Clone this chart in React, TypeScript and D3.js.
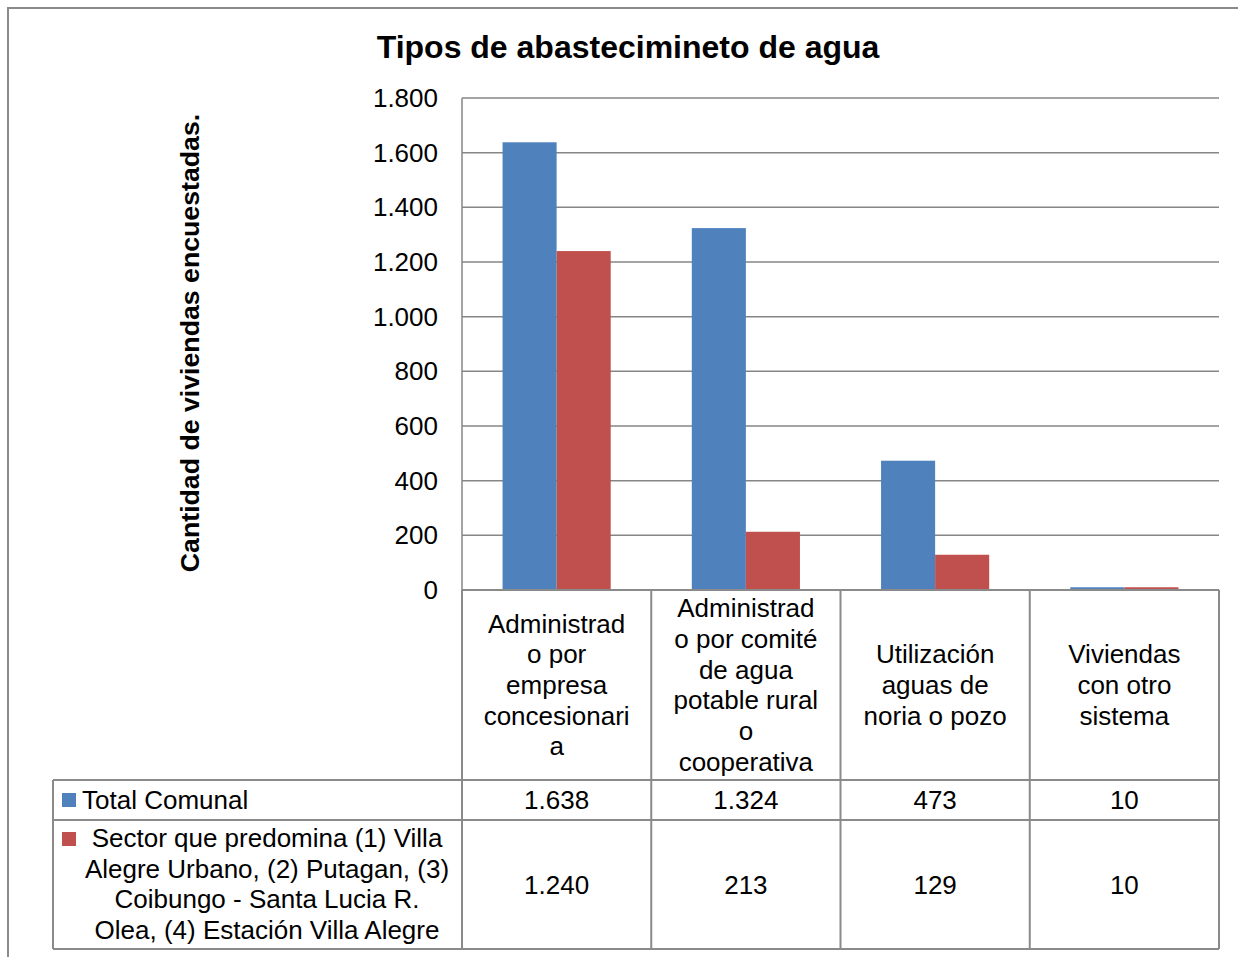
import React from "react";
import * as d3 from "d3";

const categories = ["c1", "c2", "c3", "c4"];
const categoryLabels: string[][] = [
  ["Administrad", "o por", "empresa", "concesionari", "a"],
  ["Administrad", "o por comité", "de agua", "potable rural", "o", "cooperativa"],
  ["Utilización", "aguas de", "noria o pozo"],
  ["Viviendas", "con otro", "sistema"],
];
const seriesNames = ["Total Comunal", "Sector"];
const seriesLegend: string[][] = [
  ["Total Comunal"],
  [
    "Sector que predomina (1) Villa",
    "Alegre Urbano, (2) Putagan, (3)",
    "Coibungo - Santa Lucia R.",
    "Olea, (4) Estación Villa Alegre",
  ],
];
const totalComunal = [1638, 1324, 473, 10];
const sectorValues = [1240, 213, 129, 10];
const yTicks = [0, 200, 400, 600, 800, 1000, 1200, 1400, 1600, 1800];
const colors = ["#4F81BD", "#C0504D"];
const title = "Tipos de abastecimineto de agua";
const yTitle = "Cantidad de viviendas encuestadas.";

const W = 1238;
const H = 957;
const plotL = 462;
const plotR = 1219;
const plotT = 98;
const plotB = 590;
const headerB = 780;
const row1B = 820;
const row2B = 949;
const tableL = 53;
const FONT = "'Liberation Sans', Arial, sans-serif";
const GRID = "#868686";
const LINE = "#8a8a8a";

const locale = d3.formatLocale({ decimal: ",", thousands: ".", grouping: [3], currency: ["$", ""] });
const fmt = locale.format(",");

export default function App() {
  const series = [totalComunal, sectorValues];
  const x0 = d3.scaleBand<string>().domain(categories).range([plotL, plotR]);
  const bw = x0.bandwidth();
  const x1 = d3.scaleBand<string>().domain(seriesNames).range([0, bw]).paddingInner(0).paddingOuter(0.75);
  const y = d3.scaleLinear().domain([0, 1800]).range([plotB, plotT]);
  const lh = 30.7;
  const rows = [
    { top: headerB, bottom: row1B },
    { top: row1B, bottom: row2B },
  ];

  return (
    <svg
      width={W}
      height={H}
      style={{ position: "absolute", left: 0, top: 0, background: "#fff" }}
      fontFamily={FONT}
    >
      <rect x={0} y={0} width={W} height={H} fill="#fff" />
      <rect x={8} y={8} width={W + 40} height={H + 40} fill="none" stroke={LINE} strokeWidth={2} />
      <text x={628} y={58} textAnchor="middle" fontSize={32} fontWeight="bold" fill="#000">
        {title}
      </text>
      <text
        transform={`translate(190, ${343}) rotate(-90)`}
        textAnchor="middle"
        dominantBaseline="central"
        fontSize={26.7}
        fontWeight="bold"
        fill="#000"
      >
        {yTitle}
      </text>
      {yTicks.map((t) => (
        <g key={t}>
          {t > 0 && (
            <line x1={plotL} x2={plotR} y1={y(t)} y2={y(t)} stroke={GRID} strokeWidth={1.5} />
          )}
          <text x={438} y={y(t)} textAnchor="end" dominantBaseline="central" fontSize={26} fill="#000">
            {fmt(t)}
          </text>
        </g>
      ))}
      <line x1={plotL} x2={plotL} y1={plotT} y2={plotB} stroke={GRID} strokeWidth={1.5} />
      {categories.map((c, i) =>
        series.map((s, j) => (
          <rect
            key={c + j}
            x={(x0(c) as number) + (x1(seriesNames[j]) as number)}
            y={y(s[i])}
            width={x1.bandwidth()}
            height={plotB - y(s[i])}
            fill={colors[j]}
          />
        ))
      )}
      <g stroke={LINE} strokeWidth={2} fill="none">
        <line x1={plotL} x2={plotR} y1={plotB} y2={plotB} />
        <line x1={tableL} x2={plotR} y1={headerB} y2={headerB} />
        <line x1={tableL} x2={plotR} y1={row1B} y2={row1B} />
        <line x1={tableL} x2={plotR} y1={row2B} y2={row2B} />
        <line x1={tableL} x2={tableL} y1={headerB} y2={row2B} />
        {categories.map((c) => (
          <line key={c} x1={x0(c) as number} x2={x0(c) as number} y1={plotB} y2={row2B} />
        ))}
        <line x1={plotR} x2={plotR} y1={plotB} y2={row2B} />
      </g>
      {categories.map((c, i) => {
        const lines = categoryLabels[i];
        const cx = (x0(c) as number) + bw / 2;
        const cy = (plotB + headerB) / 2;
        const start = cy - ((lines.length - 1) * lh) / 2;
        return (
          <g key={c}>
            {lines.map((l, k) => (
              <text key={k} x={cx} y={start + k * lh} textAnchor="middle" dominantBaseline="central" fontSize={26} fill="#000">
                {l}
              </text>
            ))}
          </g>
        );
      })}
      <rect x={62} y={793} width={14} height={14} fill={colors[0]} />
      <text x={82} y={800} dominantBaseline="central" fontSize={26} fill="#000">
        {seriesLegend[0][0]}
      </text>
      <rect x={62} y={832} width={14} height={14} fill={colors[1]} />
      {seriesLegend[1].map((l, k) => (
        <text key={k} x={267} y={838 + k * lh} textAnchor="middle" dominantBaseline="central" fontSize={26} fill="#000">
          {l}
        </text>
      ))}
      {series.map((s, j) =>
        categories.map((c, i) => (
          <text
            key={c + j}
            x={(x0(c) as number) + bw / 2}
            y={(rows[j].top + rows[j].bottom) / 2}
            textAnchor="middle"
            dominantBaseline="central"
            fontSize={26}
            fill="#000"
          >
            {fmt(s[i])}
          </text>
        ))
      )}
    </svg>
  );
}
